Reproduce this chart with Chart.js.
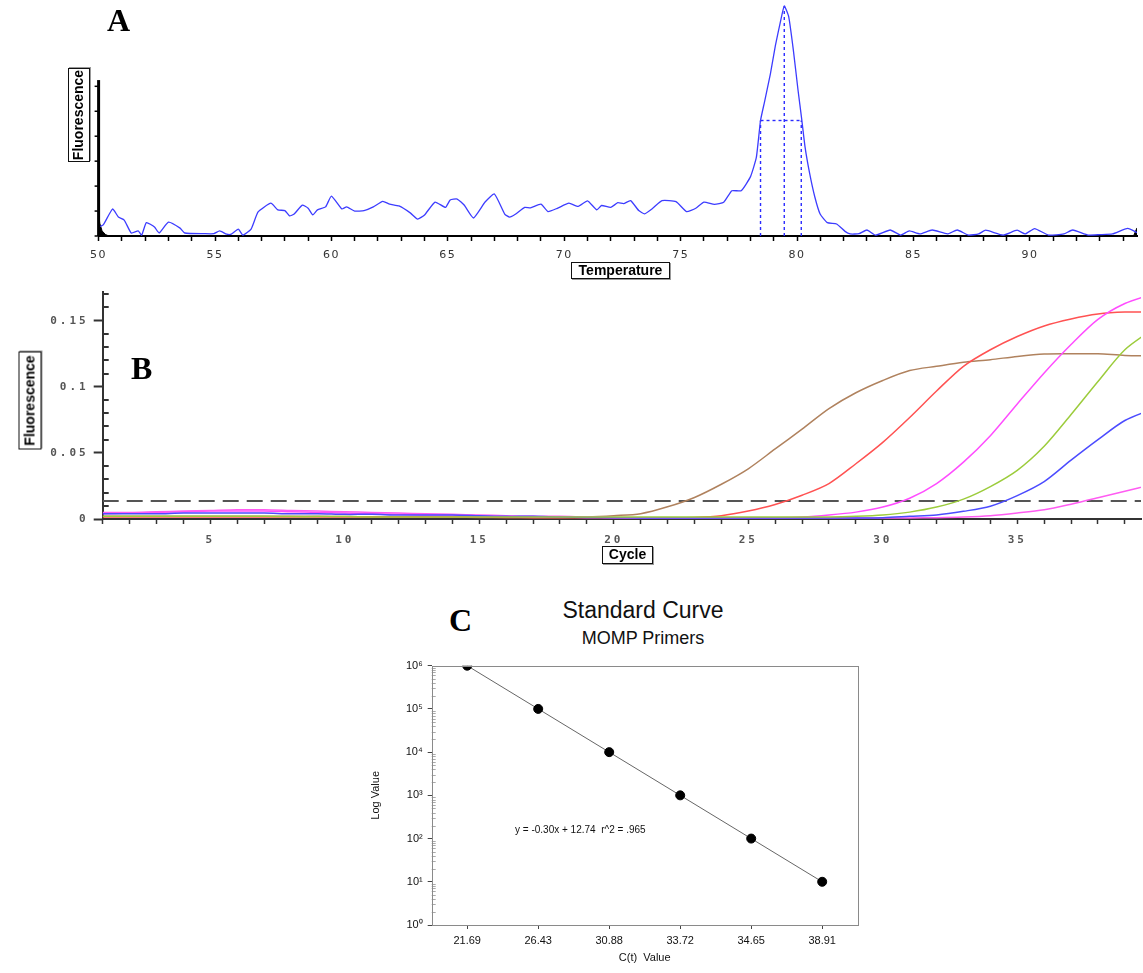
<!DOCTYPE html>
<html><head><meta charset="utf-8">
<script src="https://cdn.jsdelivr.net/npm/chart.js@4"></script>
<style>
body{margin:0;background:#fff;width:1143px;height:973px;position:relative;overflow:hidden;font-family:"Liberation Sans",Arial,sans-serif}
canvas{position:absolute}
.lbl{position:absolute;font-family:"Liberation Serif","Times New Roman",serif;font-weight:bold;font-size:32px;line-height:32px}
.box{position:absolute;font-weight:bold;font-size:14px;border:1.5px solid #111;box-shadow:1px 1px 0 #999;background:#fff;text-align:center;box-sizing:border-box;color:#000}
.rot{transform:rotate(-90deg);transform-origin:center center}
.t{position:absolute;text-align:center;color:#111;white-space:nowrap}
</style></head>
<body>
<canvas id="cA" width="1143" height="290" style="left:0;top:0"></canvas>
<canvas id="cB" width="1143" height="310" style="left:0;top:280px"></canvas>
<canvas id="cC" width="510" height="323" style="left:360px;top:650px"></canvas>

<div class="lbl" style="left:107px;top:4px">A</div>
<div class="lbl" style="left:131px;top:352px">B</div>
<div class="lbl" style="left:449px;top:604px">C</div>

<div class="box rot" style="left:32px;top:104px;width:94px;height:22px;line-height:19px">Fluorescence</div>
<div class="box" style="left:571px;top:262px;width:99px;height:17px;line-height:14px">Temperature</div>
<div class="box rot" style="left:-19px;top:389px;width:98px;height:23px;line-height:20px">Fluorescence</div>
<div class="box" style="left:602px;top:546px;width:51px;height:18px;line-height:15px">Cycle</div>

<div class="t" style="left:443px;top:597px;width:400px;font-size:23px;line-height:26px">Standard Curve</div>
<div class="t" style="left:443px;top:627px;width:400px;font-size:18px;line-height:22px">MOMP Primers</div>
<div class="t" style="left:515px;top:824px;font-size:10px;line-height:12px;text-align:left">y = -0.30x + 12.74&nbsp; r^2 = .965</div>

<script>
// ---------- Panel A : melt curve ----------
const meltTemp = [50.0,50.2,50.6,50.85,51.1,51.4,51.7,51.85,52.05,52.4,52.6,53.0,53.5,53.7,54.55,54.95,55.2,55.5,55.7,56.0,56.2,56.55,56.85,57.4,57.7,58.0,58.2,58.4,58.75,59.0,59.2,59.4,59.75,60.0,60.45,60.65,61.0,61.4,61.8,62.2,62.5,62.9,63.4,63.7,64.0,64.45,64.9,65.1,65.4,65.7,66.1,66.6,67.0,67.45,67.65,67.9,68.3,68.55,69.0,69.3,69.7,70.2,70.6,71.0,71.4,71.6,72.0,72.3,72.55,72.85,73.2,73.45,73.8,74.2,74.8,75.25,75.65,76.0,76.45,76.85,77.2,77.6,78.0,78.25,78.43,78.6,78.85,79.07,79.27,79.45,79.64,79.84,80.04,80.2,80.34,80.54,80.76,80.99,81.3,81.7,82.06,82.28,82.66,83.0,83.37,84.0,84.45,84.82,85.27,85.8,86.46,86.88,87.36,87.8,88.1,88.85,89.45,89.8,90.2,90.8,91.46,91.84,92.5,93.0,93.55,94.2,94.6];
const meltFluor = [3.9,4.8,11.7,8.2,6.9,1.3,2.2,0.4,5.8,3.9,1.3,6.0,3.4,1.3,1.0,1.0,2.2,0.8,0.8,3.0,0.4,3.0,10.4,14.2,11.3,11.0,8.7,9.5,13.4,12.0,9.1,11.3,12.6,17.3,11.7,12.6,10.8,11.0,12.6,15.0,13.8,13.0,9.9,7.3,9.1,14.7,12.4,15.6,16.0,13.4,7.8,14.7,18.2,9.4,8.2,9.4,12.4,12.2,13.8,10.6,12.0,14.2,12.8,15.2,11.3,13.2,12.4,14.4,14.0,15.3,11.0,9.6,12.0,15.3,14.9,10.6,12.0,14.7,13.7,14.6,19.6,19.6,25.7,34.0,50.0,58.0,70.0,82.5,92.0,99.6,95.0,80.5,63.2,50.5,38.7,27.1,17.0,9.5,5.8,5.2,2.0,0.9,1.0,2.6,0.4,2.6,0.4,2.2,0.9,2.6,0.9,2.6,0.4,0.9,2.5,0.4,2.5,0.9,3.2,0.4,0.9,2.6,0.4,0.6,0.9,3.3,1.5];
const wedgeTemp = [50.0,50.05,50.15,50.3,50.45];
const wedgeFluor = [10,5.5,2.2,0.6,0];
const tailTemp = [94.45,94.6];
const tailFluor = [0,3.5];
const tmLineTemp = [79.45,79.45];
const tmLineFluor = [0,99.6];
const halfLowTemp = [78.43,78.43];
const halfHighTemp = [80.18,80.18];
const halfLineFluor = [0,50];
const halfBarTemp = [78.43,80.18];
const halfBarFluor = [50,50];
const tempLabels = [50,55,60,65,70,75,80,85,90];

// ---------- Panel B : amplification curves ----------
const cycles = [1,2,3,4,5,6,7,8,9,10,11,12,13,14,15,16,17,18,19,20,21,22,23,24,25,26,27,28,29,30,31,32,33,34,35,36,37,38,39,40];
const brownCurve = [0.002,0.002,0.002,0.002,0.002,0.002,0.002,0.002,0.002,0.0018,0.0015,0.0015,0.0015,0.0013,0.0012,0.0012,0.0012,0.0012,0.0015,0.0025,0.004,0.0092,0.0163,0.0263,0.038,0.053,0.068,0.0835,0.0955,0.1048,0.1123,0.1155,0.1185,0.1205,0.123,0.1248,0.125,0.125,0.1237,0.1235];
const redCurve = [0.0015,0.0015,0.0015,0.0015,0.0015,0.0015,0.0015,0.0015,0.0015,0.0015,0.0015,0.0015,0.0015,0.0015,0.0015,0.0012,0.001,0.001,0.001,0.001,0.001,0.001,0.0012,0.0025,0.006,0.011,0.018,0.0268,0.0418,0.058,0.0768,0.0968,0.1155,0.128,0.138,0.146,0.1513,0.155,0.1565,0.1565];
const magentaCurve = [0.004,0.0045,0.005,0.0055,0.006,0.006,0.006,0.0055,0.005,0.0045,0.004,0.0035,0.003,0.003,0.0025,0.002,0.0018,0.0015,0.0012,0.001,0.001,0.001,0.001,0.001,0.001,0.001,0.0015,0.003,0.0052,0.009,0.0157,0.0268,0.043,0.063,0.087,0.1105,0.132,0.151,0.163,0.17];
const greenCurve = [0.002,0.002,0.002,0.002,0.002,0.002,0.002,0.0018,0.0018,0.0018,0.0016,0.0016,0.0015,0.0015,0.0015,0.0015,0.0015,0.0015,0.0015,0.0015,0.0015,0.0015,0.0015,0.0015,0.0015,0.0015,0.0015,0.0015,0.002,0.003,0.0052,0.009,0.015,0.0245,0.0368,0.055,0.079,0.104,0.128,0.143];
const blueCurve = [0.004,0.004,0.004,0.0045,0.0045,0.0045,0.0045,0.004,0.004,0.0035,0.0035,0.003,0.003,0.003,0.0025,0.002,0.002,0.0015,0.0012,0.001,0.0008,0.0008,0.0008,0.0008,0.0008,0.0008,0.0008,0.0008,0.0008,0.001,0.002,0.003,0.0058,0.0097,0.0177,0.0283,0.0445,0.06,0.0745,0.083];
const pinkCurve = [0.005,0.005,0.0055,0.006,0.0065,0.007,0.007,0.0065,0.006,0.0055,0.005,0.0045,0.004,0.0035,0.003,0.0025,0.002,0.002,0.0015,0.0012,0.0008,0.0008,0.0008,0.0008,0.0008,0.0008,0.0008,0.0008,0.0008,0.0008,0.0008,0.001,0.0015,0.0025,0.0045,0.007,0.0112,0.016,0.021,0.026];
const thresholdCycles = [1,40];
const thresholdValue = [0.0137,0.0137];
const cycleLabels = [5,10,15,20,25,30,35];
const fluorLabels = ['0','0.05','0.1','0.15'];

// ---------- Panel C : standard curve ----------
const ctLabels = ['21.69','26.43','30.88','33.72','34.65','38.91'];
const logValues = [1e6,1e5,1e4,1e3,1e2,1e1];
const logLabels = ['10\u2070','10\u00B9','10\u00B2','10\u00B3','10\u2074','10\u2075','10\u2076'];

Chart.defaults.font.family = '"Liberation Sans", Arial, sans-serif';
Chart.defaults.animation = false;
Chart.defaults.plugins.legend.display = false;
Chart.defaults.plugins.tooltip.enabled = false;

const pts = (xs, ys) => xs.map((x, i) => ({x: x, y: ys[i]}));

function spacing(px) {
  return {id: 'sp' + px, beforeDraw(c) { c.ctx.letterSpacing = px + 'px'; }};
}

// A
const yAxisA = {
  id: 'yAxisA',
  afterDraw(c) {
    const ctx = c.ctx, a = c.chartArea, ys = c.scales.y;
    ctx.save();
    ctx.strokeStyle = '#000';
    ctx.lineWidth = 3;
    ctx.beginPath();
    ctx.moveTo(a.left, ys.getPixelForValue(0));
    ctx.lineTo(a.left, ys.getPixelForValue(67.5));
    ctx.stroke();
    ctx.lineWidth = 1.5;
    for (let v = 0; v <= 67.5; v += 10.8) {
      const p = ys.getPixelForValue(v);
      ctx.beginPath(); ctx.moveTo(a.left - 4, p); ctx.lineTo(a.left, p); ctx.stroke();
    }
    ctx.restore();
  }
};
const dashA = {borderColor: '#2b2bff', borderWidth: 1.4, borderDash: [3, 3], pointRadius: 0, fill: false};
new Chart(document.getElementById('cA'), {
  type: 'line',
  data: {datasets: [
    {data: pts(meltTemp, meltFluor), borderColor: '#3c3cff', borderWidth: 1.3, pointRadius: 0, tension: 0.15},
    Object.assign({data: pts(tmLineTemp, tmLineFluor)}, dashA),
    Object.assign({data: pts(halfLowTemp, halfLineFluor)}, dashA),
    Object.assign({data: pts(halfHighTemp, halfLineFluor)}, dashA),
    Object.assign({data: pts(halfBarTemp, halfBarFluor)}, dashA),
    {data: pts(wedgeTemp, wedgeFluor), borderColor: '#000', backgroundColor: '#000', borderWidth: 1, pointRadius: 0, fill: 'origin'},
    {data: pts(tailTemp, tailFluor), borderColor: '#000', backgroundColor: '#000', borderWidth: 1, pointRadius: 0, fill: 'origin'}
  ]},
  options: {
    responsive: false, devicePixelRatio: 1,
    layout: {padding: {left: 98.6, top: 5, right: 6, bottom: 0}},
    scales: {
      x: {type: 'linear', min: 50, max: 94.6,
        afterFit: s => { s.height = 54; },
        ticks: {stepSize: 1, includeBounds: false, autoSkip: false, maxRotation: 0, padding: 8,
          color: '#333', font: {family: '"DejaVu Sans"', size: 11},
          callback: v => tempLabels.includes(v) ? String(v) : ''},
        grid: {drawOnChartArea: false, tickLength: 5, color: '#000', tickWidth: 1.5},
        border: {color: '#000', width: 2}},
      y: {display: false, min: 0, max: 100}
    }
  },
  plugins: [spacing(1.5), yAxisA]
});

// B
const isMajorB = v => Math.round(v * 100) % 5 === 0;
const minorTicksB = {
  id: 'minorTicksB',
  afterDraw(c) {
    const ctx = c.ctx, a = c.chartArea, ys = c.scales.y;
    ctx.save();
    ctx.strokeStyle = '#333'; ctx.lineWidth = 2;
    ys.ticks.forEach(t => {
      if (isMajorB(t.value)) return;
      const p = Math.round(ys.getPixelForValue(t.value));
      ctx.beginPath(); ctx.moveTo(a.left, p); ctx.lineTo(a.left + 6, p); ctx.stroke();
    });
    ctx.restore();
  }
};
const curveStyle = (col) => ({borderColor: col, borderWidth: 1.5, pointRadius: 0, tension: 0.3, fill: false});
new Chart(document.getElementById('cB'), {
  type: 'line',
  data: {datasets: [
    Object.assign({data: pts(cycles, greenCurve)}, curveStyle('#9ccc3c')),
    Object.assign({data: pts(cycles, blueCurve)}, curveStyle('#4c4cff')),
    Object.assign({data: pts(cycles, pinkCurve)}, curveStyle('#ff5cf2')),
    Object.assign({data: pts(cycles, magentaCurve)}, curveStyle('#ff4dff')),
    Object.assign({data: pts(cycles, redCurve)}, curveStyle('#ff5252')),
    Object.assign({data: pts(cycles, brownCurve)}, curveStyle('#b0825e')),
    {data: pts(thresholdCycles, thresholdValue), borderColor: '#555', borderWidth: 2, borderDash: [16, 8], pointRadius: 0, fill: false}
  ]},
  options: {
    responsive: false, devicePixelRatio: 1,
    layout: {padding: {left: 0, top: 10, right: 2, bottom: 0}},
    scales: {
      x: {type: 'linear', min: 1, max: 39.6,
        afterFit: s => { s.height = 71; },
        ticks: {stepSize: 1, includeBounds: false, autoSkip: false, maxRotation: 0, padding: 10,
          color: '#555', font: {family: '"DejaVu Sans Mono"', size: 11, weight: 'bold'},
          callback: v => cycleLabels.includes(v) ? String(v) : ''},
        grid: {drawOnChartArea: false, tickLength: 5, color: '#333', tickWidth: 1.5},
        border: {color: '#333', width: 2}},
      y: {min: 0, max: 0.172,
        afterFit: s => { s.width = 102.7; },
        ticks: {stepSize: 0.01, includeBounds: false, autoSkip: false, padding: 5,
          color: '#555', font: {family: '"DejaVu Sans Mono"', size: 11, weight: 'bold'},
          callback: v => { const k = Math.round(v * 100); return k % 5 === 0 ? fluorLabels[k / 5] : ''; }},
        grid: {drawOnChartArea: false, tickLength: 9, tickWidth: 2,
          tickColor: c => isMajorB(c.tick.value) ? '#333' : 'rgba(0,0,0,0)'},
        border: {color: '#333', width: 2}}
    }
  },
  plugins: [spacing(3), minorTicksB]
});

// C
const isPow10 = v => { const e = Math.round(Math.log10(v)); return Math.abs(v - Math.pow(10, e)) < 1e-6 * v; };
const frameC = {
  id: 'frameC',
  afterDraw(c) {
    const ctx = c.ctx, a = c.chartArea, ys = c.scales.y;
    ctx.save();
    ctx.strokeStyle = '#aaa'; ctx.lineWidth = 1;
    for (let d = 0; d < 6; d++) for (let m = 2; m <= 9; m++) {
      const p = Math.round(ys.getPixelForValue(m * Math.pow(10, d))) + 0.5;
      ctx.beginPath(); ctx.moveTo(a.left, p); ctx.lineTo(a.left + 4, p); ctx.stroke();
    }
    ctx.strokeStyle = '#8a8a8a';
    ctx.strokeRect(Math.round(a.left) + 0.5, Math.round(a.top) + 0.5, Math.round(a.right - a.left), Math.round(a.bottom - a.top));
    ctx.restore();
  }
};
new Chart(document.getElementById('cC'), {
  type: 'line',
  data: {labels: ctLabels, datasets: [
    {data: logValues, borderColor: '#666', borderWidth: 1, pointRadius: 4.5, pointBackgroundColor: '#000', pointBorderColor: '#000', tension: 0}
  ]},
  options: {
    responsive: false, devicePixelRatio: 1,
    layout: {padding: {left: 0, top: 15.7, right: 12.3, bottom: 0}},
    scales: {
      x: {type: 'category', offset: true,
        afterFit: s => { s.height = 48; },
        ticks: {color: '#111', font: {size: 11}, padding: 5, maxRotation: 0},
        grid: {offset: false, drawOnChartArea: false, tickLength: 4, color: '#444'},
        border: {display: false},
        title: {display: true, text: 'C(t)  Value', color: '#111', font: {size: 11}, padding: {top: 0, bottom: 8.4}}},
      y: {type: 'logarithmic', min: 1, max: 1e6,
        afterFit: s => { s.width = 71.7; },
        ticks: {autoSkip: false, color: '#111', font: {size: 11}, padding: 5,
          callback: v => isPow10(v) ? logLabels[Math.round(Math.log10(v))] : ''},
        grid: {drawOnChartArea: false, tickLength: 4,
          tickColor: c => isPow10(c.tick.value) ? '#444' : 'rgba(0,0,0,0)'},
        border: {display: false},
        title: {display: true, text: 'Log Value', color: '#111', font: {size: 11}, padding: {top: 9.4, bottom: 0}}}
    }
  },
  plugins: [frameC]
});
</script>
</body></html>
